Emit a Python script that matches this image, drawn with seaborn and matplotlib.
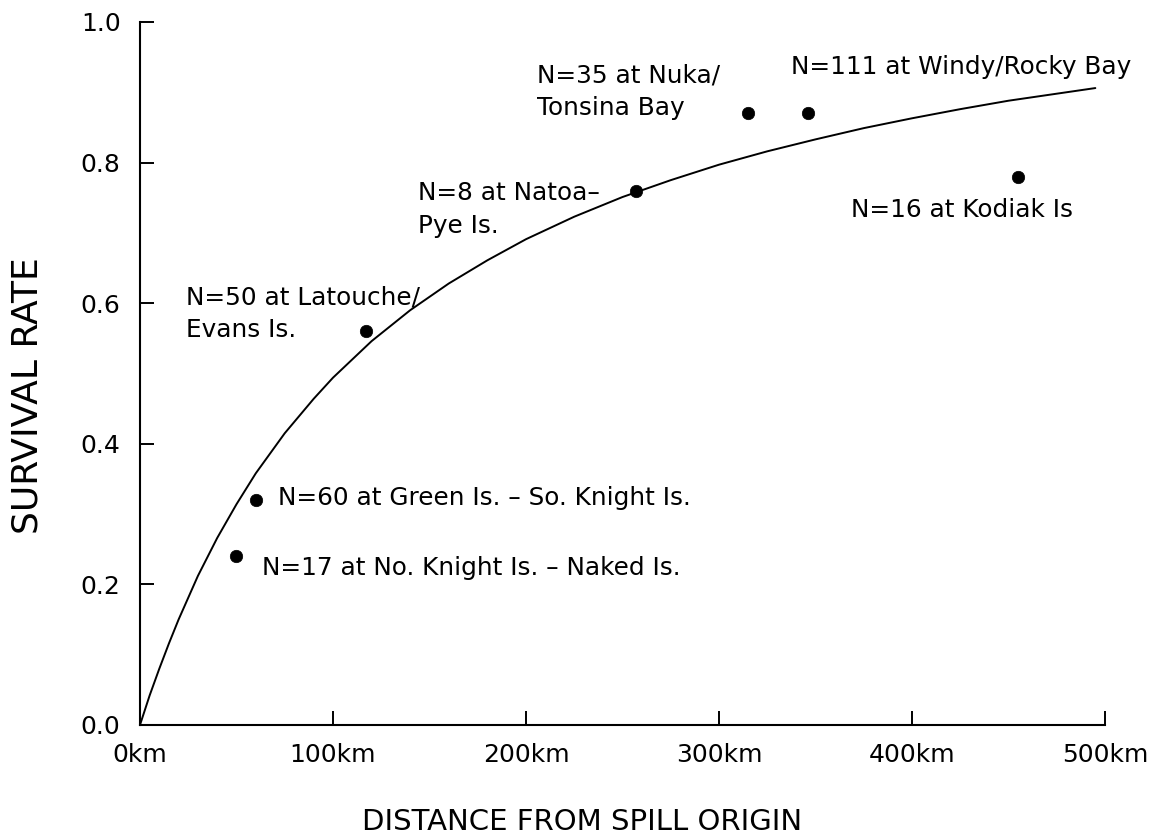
import matplotlib
matplotlib.use("Agg")
import matplotlib.pyplot as plt
import seaborn as sns
import pandas as pd

# Observed survival rate at each release site
sites = [
    "N=17 at No. Knight Is. – Naked Is.",
    "N=60 at Green Is. – So. Knight Is.",
    "N=50 at Latouche/\nEvans Is.",
    "N=8 at Natoa–\nPye Is.",
    "N=35 at Nuka/\nTonsina Bay",
    "N=111 at Windy/Rocky Bay",
    "N=16 at Kodiak Is",
]
distance_km = [50, 60, 117, 257, 315, 346, 455]
survival = [0.24, 0.32, 0.56, 0.76, 0.87, 0.87, 0.78]

# Fitted survival curve
curve_km = [0, 5, 10, 15, 20, 30, 40, 50, 60, 75, 90, 100, 120, 140, 160, 180,
            200, 225, 250, 275, 300, 325, 350, 375, 400, 425, 450, 475, 495]
curve_rate = [0.0, 0.042, 0.080, 0.116, 0.150, 0.212, 0.266, 0.314, 0.358,
              0.415, 0.464, 0.494, 0.546, 0.590, 0.628, 0.661, 0.691, 0.723,
              0.751, 0.775, 0.797, 0.816, 0.833, 0.849, 0.863, 0.876, 0.888,
              0.898, 0.906]

x_ticks = [0, 100, 200, 300, 400, 500]
x_tick_labels = ["0km", "100km", "200km", "300km", "400km", "500km"]
y_ticks = [0.0, 0.2, 0.4, 0.6, 0.8, 1.0]
y_tick_labels = ["0.0", "0.2", "0.4", "0.6", "0.8", "1.0"]

points = pd.DataFrame({"site": sites, "km": distance_km, "rate": survival})
curve = pd.DataFrame({"km": curve_km, "rate": curve_rate})

sns.set_theme(style="white")
plt.rcParams["font.family"] = ["DejaVu Sans"]

fig = plt.figure(figsize=(11.55, 8.39), dpi=100)
ax = fig.add_axes([0.1212, 0.1359, 0.8355, 0.8379])

sns.lineplot(data=curve, x="km", y="rate", ax=ax, color="black",
             linewidth=1.4, sort=True, estimator=None)
sns.scatterplot(data=points, x="km", y="rate", ax=ax, color="black",
                s=80, edgecolor="black", linewidth=0.5, zorder=5)

# label offsets (points) from each marker
offsets = [(18.7, -8.6), (15.8, 1.4), (-129.6, 12.6), (-157.0, -13.7),
           (-152.0, 15.5), (-12.2, 33.1), (-120.0, -23.8)]
for (site, x, y), (dx, dy) in zip(zip(sites, distance_km, survival), offsets):
    ax.annotate(site, xy=(x, y), xytext=(dx, dy), textcoords="offset points",
                ha="left", va="center", fontsize=17.8, linespacing=1.45,
                color="black")

ax.set_xlim(0, 500)
ax.set_ylim(0, 1.0)
ax.set_xticks(x_ticks)
ax.set_xticklabels(x_tick_labels)
ax.set_yticks(y_ticks)
ax.set_yticklabels(y_tick_labels)
ax.tick_params(axis="both", which="major", bottom=True, left=True,
               direction="in", length=10, width=1.4, color="black",
               labelsize=18, labelcolor="black")
ax.tick_params(axis="x", pad=13)
ax.tick_params(axis="y", pad=14)

for side in ["top", "right"]:
    ax.spines[side].set_visible(False)
for side in ["left", "bottom"]:
    ax.spines[side].set_color("black")
    ax.spines[side].set_linewidth(1.5)

ax.set_xlabel("DISTANCE FROM SPILL ORIGIN", fontsize=21, color="black",
              va="center")
ax.xaxis.set_label_coords(0.458, -0.138)
ax.set_ylabel("SURVIVAL RATE", fontsize=26, color="black", va="center")
ax.yaxis.set_label_coords(-0.117, 0.468)

fig.savefig("out.png", dpi=100, facecolor="white")
